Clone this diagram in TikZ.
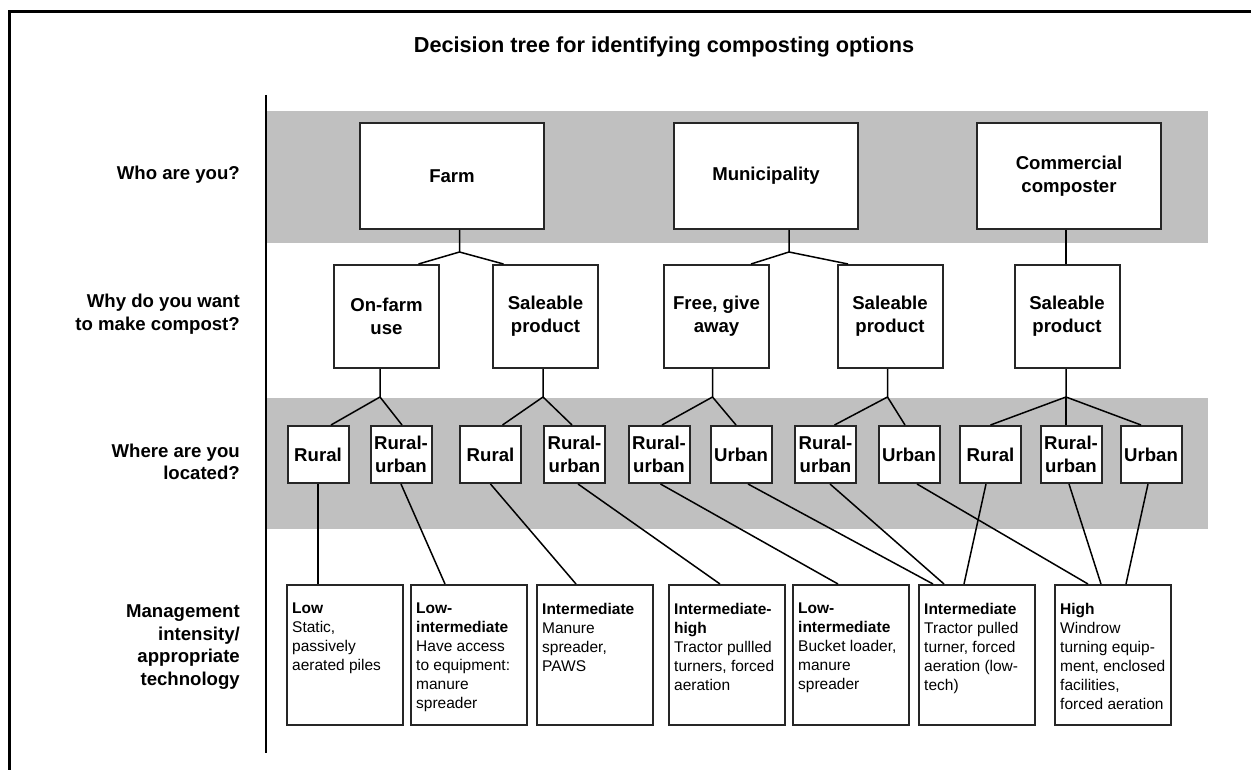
\documentclass[tikz,border=0pt]{standalone}
\usepackage{fontspec}
\setmainfont{Liberation Sans}
\definecolor{bandgray}{RGB}{192,192,192}
\definecolor{boxline}{RGB}{38,38,38}

\begin{document}
\begin{tikzpicture}[x=1pt,y=-1pt,every node/.style={inner sep=0pt},
  box/.style={draw=boxline,line width=2pt,fill=white,align=center,font=\fontsize{18.6}{22.7}\selectfont\bfseries},
  who/.style={box,minimum width=184pt,minimum height=106pt},
  why/.style={box,minimum width=105pt,minimum height=103pt},
  where/.style={box,minimum width=61pt,minimum height=57pt},
  tech/.style={draw=boxline,line width=2pt,fill=white,minimum width=116pt,minimum height=140pt},
  techtext/.style={anchor=north west,align=left,xshift=6pt,yshift=-19pt,font=\fontsize{15.5}{19}\selectfont},
  question/.style={anchor=east,align=right,font=\fontsize{18.6}{22.7}\selectfont\bfseries},
  link/.style={line width=1.5pt}]
\useasboundingbox (0,0) rectangle (1251,770);
\draw[line width=3pt] (9.5,770) |- (1251,11.5);
\node[font=\fontsize{21.7}{26}\selectfont\bfseries] (title) at (664,47) {Decision tree for identifying composting options};
\fill[bandgray] (266,111) rectangle (1208,243);
\fill[bandgray] (266,398) rectangle (1208,529);
\coordinate (axistop) at (266,95);
\coordinate (axisbot) at (266,753);
\draw[line width=2pt] (axistop) -- (axisbot);

\node[question] (q1) at (240,175) {Who are you?};
\node[question] (q2) at (240,314) {Why do you want\\to make compost?};
\node[question] (q3) at (240,462) {Where are you\\located?};
\node[question] (q4) at (240,647) {Management\\intensity/\\appropriate\\technology};

\node[who] (farm) at (452,176) {Farm};
\node[who] (muni) at (766,176) {Municipality};
\node[who] (comm) at (1069,176) {Commercial\\composter};

\node[why] (onfarm) at (386.5,316.5) {On-farm\\use};
\node[why] (farmsale) at (545.5,316.5) {Saleable\\product};
\node[why] (free) at (716.5,316.5) {Free, give\\away};
\node[why] (munisale) at (890,316.5) {Saleable\\product};
\node[why] (commsale) at (1067,316.5) {Saleable\\product};

\node[where] (onrural) at (318,454.5) {Rural};
\node[where] (onru) at (401,454.5) {Rural-\\urban};
\node[where] (salrural) at (490.5,454.5) {Rural};
\node[where] (salru) at (574.5,454.5) {Rural-\\urban};
\node[where] (freeru) at (659,454.5) {Rural-\\urban};
\node[where] (freeurban) at (741,454.5) {Urban};
\node[where] (msalru) at (825.5,454.5) {Rural-\\urban};
\node[where] (msalurban) at (909,454.5) {Urban};
\node[where] (crural) at (990.5,454.5) {Rural};
\node[where] (cru) at (1071,454.5) {Rural-\\urban};
\node[where] (curban) at (1151,454.5) {Urban};

\node[tech,label={[techtext]north west:{\textbf{Low}\\Static,\\passively\\aerated piles}}] (low) at (345,655) {};
\node[tech,label={[techtext]north west:{\textbf{Low-}\\\textbf{intermediate}\\Have access\\to equipment:\\manure\\spreader}}] (lowint) at (469,655) {};
\node[tech,label={[techtext]north west:{\textbf{Intermediate}\\Manure\\spreader,\\PAWS}}] (inter) at (595,655) {};
\node[tech,label={[techtext]north west:{\textbf{Intermediate-}\\\textbf{high}\\Tractor pullled\\turners, forced\\aeration}}] (interhigh) at (727,655) {};
\node[tech,label={[techtext]north west:{\textbf{Low-}\\\textbf{intermediate}\\Bucket loader,\\manure\\spreader}}] (lowinttwo) at (851,655) {};
\node[tech,label={[techtext]north west:{\textbf{Intermediate}\\Tractor pulled\\turner, forced\\aeration (low-\\tech)}}] (intertwo) at (977,655) {};
\node[tech,label={[techtext]north west:{\textbf{High}\\Windrow\\turning equip-\\ment, enclosed\\facilities,\\forced aeration}}] (high) at (1113,655) {};

\coordinate (farmfork) at (459.5,252);
\coordinate (munifork) at (789,252);
\coordinate (onfork) at (380,397);
\coordinate (salfork) at (543,397);
\coordinate (freefork) at (712.5,397);
\coordinate (msalfork) at (887.5,397);
\coordinate (csalfork) at (1066,397);

\draw[link] (farmfork |- farm.south) -- (farmfork) -- ([xshift=32pt]onfarm.north);
\draw[link] (farmfork) -- ([xshift=-42pt]farmsale.north);
\draw[link] (munifork |- muni.south) -- (munifork) -- ([xshift=34.5pt]free.north);
\draw[link] (munifork) -- ([xshift=-42pt]munisale.north);
\draw[link] (csalfork |- comm.south) -- (csalfork |- commsale.north);

\draw[link] (onfork |- onfarm.south) -- (onfork) -- ([xshift=13pt]onrural.north);
\draw[link] (onfork) -- ([xshift=1pt]onru.north);
\draw[link] (salfork |- farmsale.south) -- (salfork) -- ([xshift=12pt]salrural.north);
\draw[link] (salfork) -- ([xshift=-2.5pt]salru.north);
\draw[link] (freefork |- free.south) -- (freefork) -- ([xshift=3pt]freeru.north);
\draw[link] (freefork) -- ([xshift=-5pt]freeurban.north);
\draw[link] (msalfork |- munisale.south) -- (msalfork) -- ([xshift=9pt]msalru.north);
\draw[link] (msalfork) -- ([xshift=-4pt]msalurban.north);
\draw[link] (csalfork |- commsale.south) -- (csalfork) -- (crural.north);
\draw[link] (csalfork) -- (csalfork |- cru.north);
\draw[link] (csalfork) -- ([xshift=-10pt]curban.north);

\draw[link] (onrural.south) -- (onrural.south |- low.north);
\draw[link] (onru.south) -- ([xshift=-24pt]lowint.north);
\draw[link] (salrural.south) -- ([xshift=-19pt]inter.north);
\draw[link] ([xshift=3.5pt]salru.south) -- ([xshift=-7pt]interhigh.north);
\draw[link] ([xshift=1.5pt]freeru.south) -- ([xshift=-13pt]lowinttwo.north);
\draw[link] ([xshift=7pt]freeurban.south) -- ([xshift=-44pt]intertwo.north);
\draw[link] ([xshift=4.5pt]msalru.south) -- ([xshift=-33pt]intertwo.north);
\draw[link] ([xshift=-4.5pt]crural.south) -- ([xshift=-13pt]intertwo.north);
\draw[link] ([xshift=8pt]msalurban.south) -- ([xshift=-25pt]high.north);
\draw[link] ([xshift=-2pt]cru.south) -- ([xshift=-12pt]high.north);
\draw[link] ([xshift=-3pt]curban.south) -- ([xshift=13pt]high.north);
\end{tikzpicture}
\end{document}
